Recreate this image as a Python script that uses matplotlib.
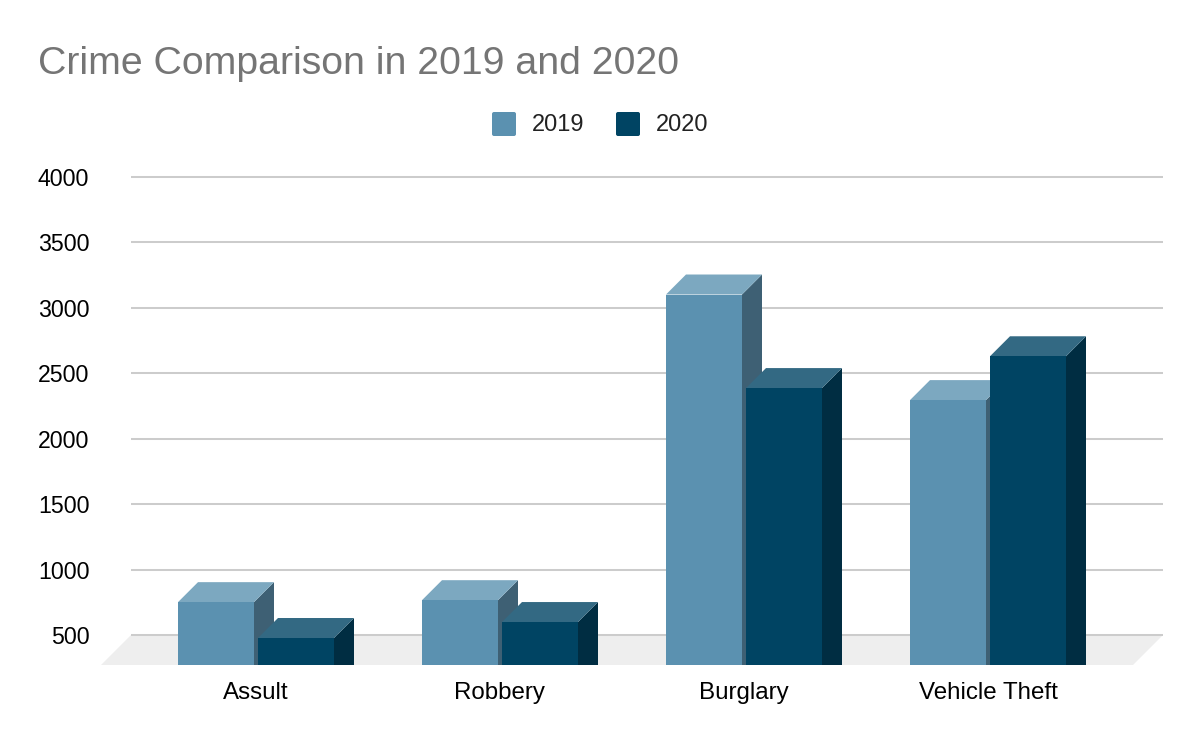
import matplotlib
matplotlib.use("Agg")
import matplotlib.pyplot as plt
from matplotlib.patches import Polygon, FancyBboxPatch

plt.rcParams['font.family'] = ['Liberation Sans', 'DejaVu Sans']

categories = ["Assult", "Robbery", "Burglary", "Vehicle Theft"]
series_names = ["2019", "2020"]
values_2019 = [751, 766, 3102, 2295]
values_2020 = [477, 599, 2387, 2630]
y_ticks = [500, 1000, 1500, 2000, 2500, 3000, 3500, 4000]

W, H = 1200, 742

# (front, top, side) shades of each series
colors_2019 = ("#5b91b0", "#7ca8c0", "#3e6074")
colors_2020 = ("#004463", "#336983", "#002d42")

# pixel layout
PX_LEFT, PX_RIGHT = 131, 1163
PX_TOP, PX_BASE = 177, 665
PX_500 = 635
GROUP_STEP = 244
BAR_W = 76
BAR_GAP = 4
DEPTH = 20
FIRST_CENTER = 256

fig = plt.figure(figsize=(W / 100, H / 100), dpi=100)
ax = fig.add_axes([PX_LEFT / W, 1 - PX_BASE / H,
                   (PX_RIGHT - PX_LEFT) / W, (PX_BASE - PX_TOP) / H])

px_per_unit = (PX_500 - PX_TOP) / 3500
ax.set_ylim(500 - (PX_BASE - PX_500) / px_per_unit, 4000)
ax.set_xlim((PX_LEFT - FIRST_CENTER) / GROUP_STEP, (PX_RIGHT - FIRST_CENTER) / GROUP_STEP)

dx = DEPTH / GROUP_STEP
dy = DEPTH / px_per_unit
bar_w = BAR_W / GROUP_STEP
gap = BAR_GAP / GROUP_STEP
y0 = ax.get_ylim()[0]
xl, xr = ax.get_xlim()

# floor
floor_dx = (PX_BASE - PX_500) / GROUP_STEP
ax.add_patch(Polygon([(xl - floor_dx, y0), (xl, 500), (xr, 500), (xr - floor_dx, y0)],
                     closed=True, fc="#eeeeee", ec="none", clip_on=False, zorder=1))

for t in y_ticks:
    ax.plot([xl, xr], [t, t], color="#cccccc", lw=1.45, solid_capstyle="butt", zorder=2, clip_on=False)


def draw_bar(x, val, shades, z):
    front, top, side = shades
    x1 = x + bar_w
    ax.add_patch(Polygon([(x1, y0), (x1, val), (x1 + dx, val + dy), (x1 + dx, y0)],
                         closed=True, fc=side, ec="none", zorder=z, clip_on=False))
    ax.add_patch(Polygon([(x, val), (x + dx, val + dy), (x1 + dx, val + dy), (x1, val)],
                         closed=True, fc=top, ec="none", zorder=z, clip_on=False))
    ax.add_patch(Polygon([(x, y0), (x, val), (x1, val), (x1, y0)],
                         closed=True, fc=front, ec="none", zorder=z + 0.1, clip_on=False))


for i in range(len(categories)):
    draw_bar(i - bar_w - gap / 2, values_2019[i], colors_2019, 3 + i)
    draw_bar(i + gap / 2, values_2020[i], colors_2020, 3.5 + i)

for s in ax.spines.values():
    s.set_visible(False)
ax.set_facecolor("none")
ax.set_xticks(range(len(categories)))
ax.set_xticklabels(categories, fontsize=17.4, color="#000000")
ax.set_yticks(y_ticks)
ax.set_yticklabels([str(t) for t in y_ticks], fontsize=16.7, color="#000000")
ax.tick_params(axis="both", length=0)
ax.tick_params(axis="y", pad=30)
ax.tick_params(axis="x", pad=12.5)

fig.text(38 / W, 1 - 64.5 / H, "Crime Comparison in 2019 and 2020", fontsize=28.3,
         color="#757575", va="center", ha="left")

# legend
legend_x = [492, 616]
legend_colors = [colors_2019[0], colors_2020[0]]
for lx, name, c in zip(legend_x, series_names, legend_colors):
    fig.add_artist(FancyBboxPatch((lx + 2, H - 134), 20, 20, boxstyle="round,pad=2,rounding_size=2",
                                  fc=c, ec="none", transform=None))
    fig.text((lx + 40) / W, 1 - 125 / H, name, fontsize=17, color="#222222", va="center", ha="left")

fig.savefig("out.png", dpi=100, facecolor="white")
